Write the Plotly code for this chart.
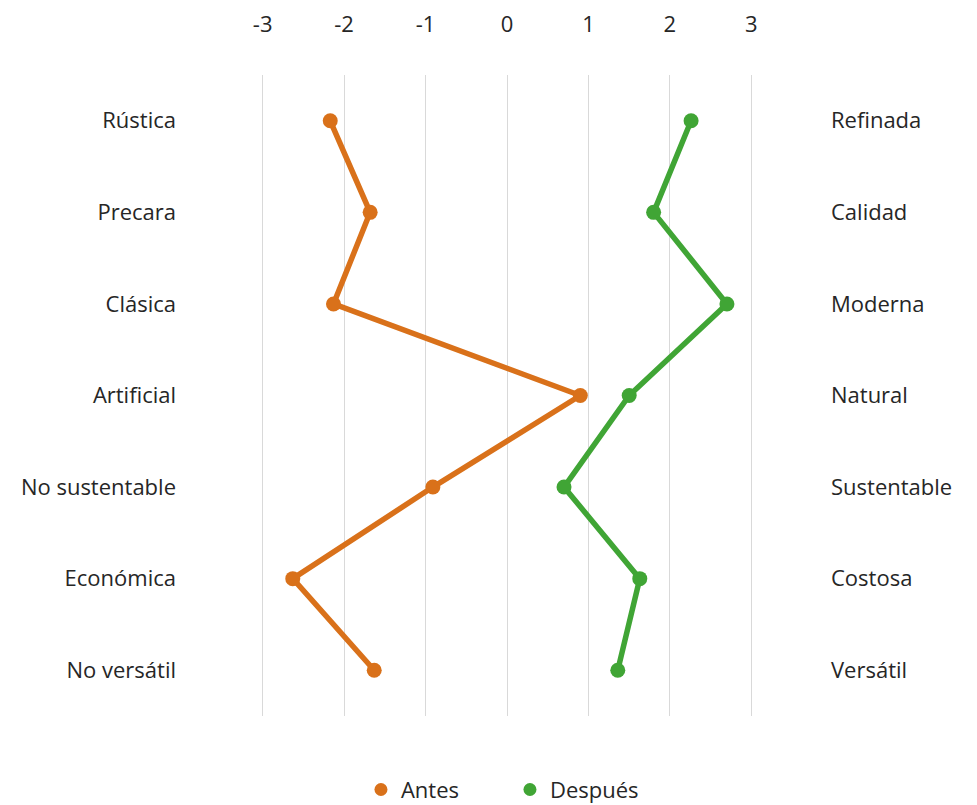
import plotly.graph_objects as go

# Semantic differential: attribute pairs (left pole / right pole)
left_labels = ["Rústica", "Precara", "Clásica", "Artificial", "No sustentable", "Económica", "No versátil"]
right_labels = ["Refinada", "Calidad", "Moderna", "Natural", "Sustentable", "Costosa", "Versátil"]

antes = [-2.17, -1.68, -2.13, 0.90, -0.91, -2.63, -1.63]
despues = [2.26, 1.80, 2.70, 1.50, 0.70, 1.63, 1.36]

x_ticks = [-3, -2, -1, 0, 1, 2, 3]

rows = list(range(len(left_labels)))

ORANGE = "#D9711A"
GREEN = "#40A535"
FONT = "Open Sans"
TEXT = "#262626"

fig = go.Figure()
for name, vals, color in (("Antes", antes, ORANGE), ("Después", despues, GREEN)):
    fig.add_trace(go.Scatter(
        x=vals, y=rows, name=name, mode="lines+markers",
        line=dict(color=color, width=5.5),
        marker=dict(color=color, size=15),
        showlegend=False, legendgroup=name,
    ))
    # marker-only legend entry
    fig.add_trace(go.Scatter(
        x=[None], y=[None], name=name, mode="markers",
        marker=dict(color=color, size=13),
        legendgroup=name,
    ))
# invisible trace to drive the right-hand labels axis
fig.add_trace(go.Scatter(
    x=[None], y=[None], yaxis="y2", showlegend=False, hoverinfo="skip",
))

fig.update_layout(
    width=977, height=805,
    margin=dict(l=261, r=224, t=75, b=89, autoexpand=False),
    paper_bgcolor="white", plot_bgcolor="white",
    font=dict(family=FONT, size=22, color=TEXT),
    showlegend=True,
    legend=dict(
        orientation="h", x=0.506, xanchor="center", y=-0.115, yanchor="middle",
        font=dict(family=FONT, size=22, color=TEXT),
        itemwidth=30, traceorder="normal",
        entrywidth=104, entrywidthmode="pixels",
    ),
    xaxis=dict(
        range=[-3.02, 3.02], side="top", tickvals=x_ticks,
        ticktext=[str(v) for v in x_ticks],
        tickfont=dict(size=22),
        showgrid=True, gridcolor="#d9d9d9", gridwidth=1,
        zeroline=False, showline=False, ticks="",
        ticklabelstandoff=38,
    ),
    yaxis=dict(
        range=[len(rows) - 0.5, -0.5], tickvals=rows, ticktext=left_labels,
        tickfont=dict(size=22),
        showgrid=False, zeroline=False, showline=False, ticks="",
        ticklabelstandoff=84,
    ),
    yaxis2=dict(
        range=[len(rows) - 0.5, -0.5], tickvals=rows, ticktext=right_labels,
        tickfont=dict(size=22),
        overlaying="y", side="right",
        showgrid=False, zeroline=False, showline=False, ticks="",
        ticklabelstandoff=77,
    ),
)

fig.write_html("out.html")
